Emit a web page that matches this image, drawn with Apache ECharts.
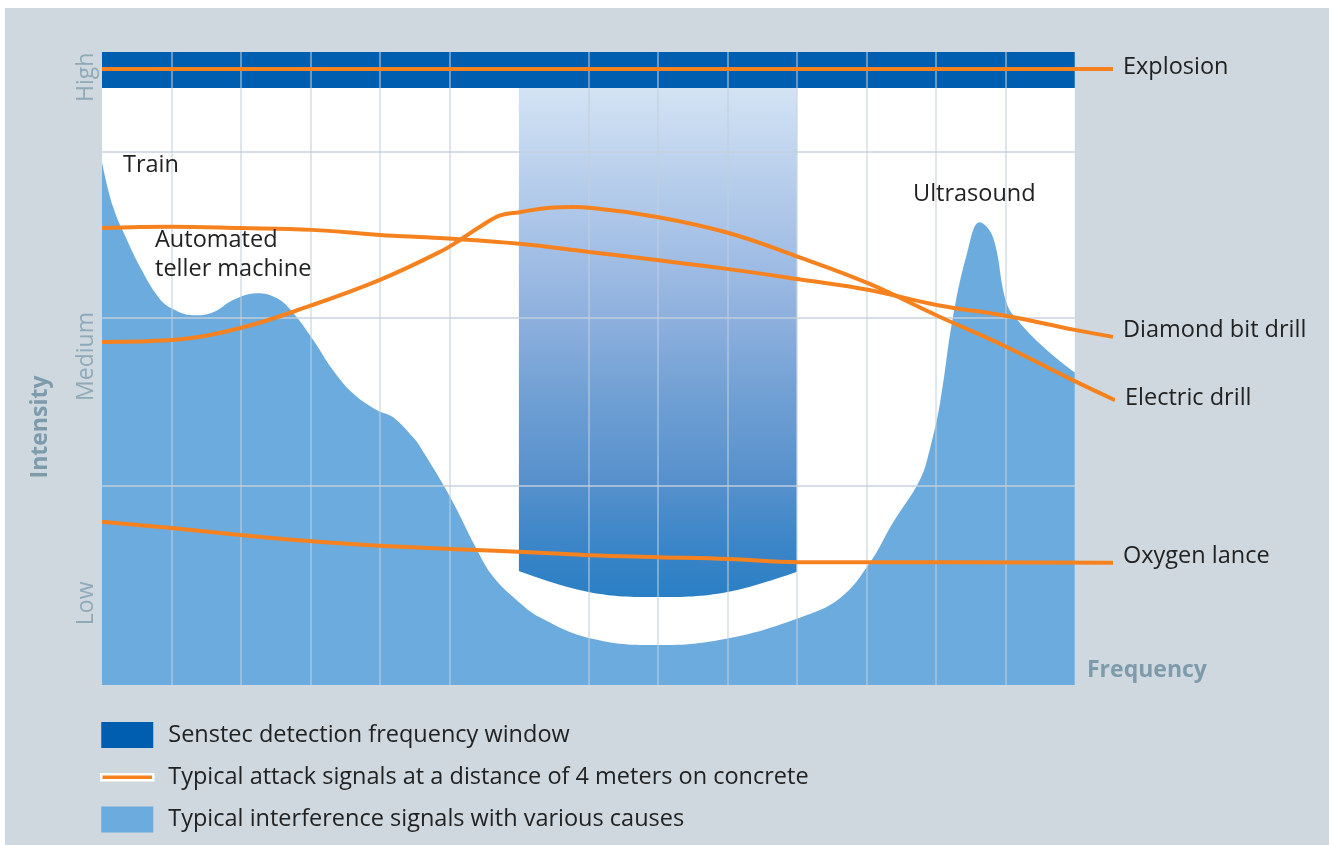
<!DOCTYPE html>
<html>
<head>
<meta charset="utf-8">
<script src="https://cdn.jsdelivr.net/npm/echarts@6/dist/echarts.min.js"></script>
<style>
  html, body { margin: 0; padding: 0; background: #fff; }
  #chart { width: 1332px; height: 845px; }
</style>
</head>
<body>
<div id="chart"></div>
<script>
// frequency runs 0..14 (grid columns), intensity 0..100
// the x axis goes a little past 14 so the attack lines can reach their labels
const plotFreq = [0, 14]
const gridFreq = [1, 2, 3, 4, 5, 7, 8, 9, 10, 11, 12, 13]
const gridLevel = [31.4, 58.0, 84.2]
const levelLabels = ['Low', 'Medium', 'High']
const levelValues = [12.9, 51.9, 96.0]

const detectionWindow = [[0, 100], [14, 100]]
const detectionBottom = 94.3

const senstecBand = [[6.0, 18.0], [7.0, 14.7], [8.0, 13.9], [9.0, 14.7], [10.0, 17.9]]

const interference = [
  [0, 82.6], [0.16, 75.5], [0.36, 70.3], [0.55, 66.0], [0.81, 61.3], [1.0, 59.5],
  [1.31, 58.4], [1.6, 58.9], [1.88, 60.8], [2.23, 61.9], [2.52, 61.1], [2.75, 58.8],
  [3.04, 54.5], [3.32, 49.8], [3.61, 46.1], [3.96, 43.4], [4.19, 42.3], [4.47, 39.2],
  [4.58, 37.6], [5.01, 29.7], [5.4, 21.3], [5.63, 17.1], [5.97, 13.4], [6.3, 10.7],
  [7.02, 7.4], [8.01, 6.3], [9.02, 7.4], [10.03, 10.6], [10.62, 13.7], [11.05, 19.3],
  [11.38, 25.6], [11.77, 32.4], [11.91, 37.1], [12.06, 44.5], [12.24, 57.7], [12.45, 68.2],
  [12.63, 73.1], [12.82, 70.8], [13.02, 60.3], [13.21, 57.2], [13.6, 52.9], [14.0, 49.4]
]

const explosion = [[0, 97.3], [14.55, 97.3]]
const diamondDrill = [
  [0, 72.2], [1, 72.4], [1.99, 72.2], [3.02, 71.9], [4.0, 71.1], [4.86, 70.6], [6.01, 69.7],
  [7.01, 68.4], [8.01, 67.1], [9.02, 65.7], [10.03, 64.1], [11.04, 62.4], [12.03, 60.0],
  [13.02, 58.3], [14.0, 56.1], [14.55, 55.0]
]
const electricDrill = [
  [0, 54.2], [1, 54.5], [1.99, 56.4], [3.02, 60.0], [4.0, 64.0], [4.86, 68.4], [5.15, 70.3],
  [5.44, 72.4], [5.73, 74.2], [6.01, 74.7], [6.45, 75.4], [6.78, 75.5], [7.02, 75.4],
  [8.01, 73.9], [9.02, 71.4], [10.03, 67.6], [11.04, 63.4], [12.03, 58.3],
  [13.02, 53.4], [14.0, 48.0], [14.58, 45.0]
]
const oxygenLance = [
  [0, 25.8], [1, 24.8], [1.99, 23.7], [3.02, 22.7], [4.0, 22.0], [5.02, 21.5], [6.3, 20.9],
  [7.02, 20.5], [8.01, 20.2], [9.02, 19.9], [10.03, 19.4], [11.04, 19.4], [14.55, 19.3]
]

const FONT = '"Open Sans", "Noto Sans", sans-serif'
const ORANGE = '#f5821f'
const ATTACK = 'Typical attack signals at a distance of 4 meters on concrete'
const WINDOW = 'Senstec detection frequency window'
const NOISE = 'Typical interference signals with various causes'

const chart = echarts.init(document.getElementById('chart'))

function attackLine (data, label, dy) {
  return {
    name: ATTACK,
    type: 'line',
    z: 6,
    data: data,
    smooth: 0.4,
    symbol: 'none',
    clip: false,
    lineStyle: { color: ORANGE, width: 4 },
    itemStyle: { color: ORANGE },
    endLabel: {
      show: true,
      formatter: label,
      distance: 10,
      offset: [0, dy],
      color: '#222',
      fontSize: 23.5,
      fontFamily: FONT
    }
  }
}

const gridLineStyle = { type: 'solid', color: 'rgba(195,208,220,0.7)' }

chart.setOption({
  animation: false,
  backgroundColor: '#cfd8df',
  grid: { left: 102, right: 219, top: 52, bottom: 160 },
  xAxis: {
    type: 'value',
    min: 0,
    max: 14.55,
    axisLine: { show: false },
    axisTick: { show: false },
    axisLabel: { show: false },
    splitLine: { show: false }
  },
  yAxis: {
    type: 'value',
    min: 0,
    max: 100,
    axisLine: { show: false },
    axisTick: { show: false },
    splitLine: { show: false },
    axisLabel: {
      customValues: levelValues,
      rotate: 90,
      margin: 4,
      color: '#8ea9b8',
      fontSize: 23,
      fontFamily: FONT,
      formatter: v => {
        const i = levelValues.indexOf(v)
        return i >= 0 ? levelLabels[i] : ''
      }
    }
  },
  legend: {
    orient: 'vertical',
    left: 100,
    top: 722,
    padding: 0,
    itemWidth: 52,
    itemHeight: 26,
    itemGap: 15,
    selectedMode: false,
    textStyle: { color: '#222', fontSize: 23.5, fontFamily: FONT, padding: [0, 0, 0, 10] },
    data: [
      { name: WINDOW, icon: 'rect' },
      {
        name: ATTACK,
        icon: 'path://M0,0M52,26M0,10h52v6h-52z',
        itemStyle: { color: ORANGE, borderColor: '#fff', borderWidth: 2.5 }
      },
      { name: NOISE, icon: 'rect' }
    ]
  },
  graphic: [
    { type: 'rect', shape: { x: 0, y: 0, width: 1332, height: 8 }, style: { fill: '#fff' } },
    { type: 'rect', shape: { x: 0, y: 0, width: 5, height: 845 }, style: { fill: '#fff' } },
    { type: 'rect', shape: { x: 1329, y: 0, width: 3, height: 845 }, style: { fill: '#fff' } },
    {
      type: 'text', x: 123, y: 165, z: 10,
      style: { text: 'Train', fill: '#222', font: '23.5px ' + FONT, verticalAlign: 'middle' }
    },
    {
      type: 'text', x: 155, y: 226, z: 10,
      style: { text: 'Automated\nteller machine', fill: '#222', font: '23.5px ' + FONT, lineHeight: 29, verticalAlign: 'top' }
    },
    {
      type: 'text', x: 913, y: 194, z: 10,
      style: { text: 'Ultrasound', fill: '#222', font: '23.5px ' + FONT, verticalAlign: 'middle' }
    },
    {
      type: 'text', x: 40, y: 427, rotation: Math.PI / 2, z: 10,
      style: { text: 'Intensity', fill: '#7e9bac', font: 'bold 23px ' + FONT, align: 'center', verticalAlign: 'middle' }
    },
    {
      type: 'text', x: 1087, y: 670, z: 10,
      style: { text: 'Frequency', fill: '#7e9bac', font: 'bold 23px ' + FONT, verticalAlign: 'middle' }
    }
  ],
  series: [
    {
      name: NOISE,
      type: 'line',
      z: 1,
      data: interference,
      smooth: 0.4,
      symbol: 'none',
      lineStyle: { width: 0 },
      itemStyle: { color: '#6cabde' },
      areaStyle: { color: '#6cabde', opacity: 1 },
      // white plot background, only over the gridded part
      markArea: {
        z: 0,
        silent: true,
        itemStyle: { color: '#fff' },
        data: [[{ coord: [plotFreq[0], 0] }, { coord: [plotFreq[1], 100] }]]
      }
    },
    {
      type: 'line',
      z: 2,
      data: senstecBand,
      smooth: 0.4,
      symbol: 'none',
      lineStyle: { width: 0 },
      areaStyle: {
        origin: 'end',
        opacity: 1,
        color: new echarts.graphic.LinearGradient(0, 0, 0, 1, [
          { offset: 0, color: '#d8e6f6' },
          { offset: 0.066, color: '#d3e3f4' },
          { offset: 0.18, color: '#c0d5ee' },
          { offset: 0.345, color: '#a6c1e6' },
          { offset: 0.488, color: '#8eb0de' },
          { offset: 0.639, color: '#6f9fd3' },
          { offset: 0.796, color: '#5590cc' },
          { offset: 0.895, color: '#3d86c8' },
          { offset: 1, color: '#2a7fc4' }
        ])
      },
      // grid lines sit above the fills
      markLine: {
        z: 4,
        silent: true,
        symbol: 'none',
        label: { show: false },
        lineStyle: gridLineStyle,
        data: [
          ...gridFreq.map(v => ({ xAxis: v, lineStyle: { width: 1.5 } })),
          ...gridLevel.map(v => [
            { coord: [plotFreq[0], v], lineStyle: { width: 2 } },
            { coord: [plotFreq[1], v] }
          ])
        ]
      }
    },
    {
      name: WINDOW,
      type: 'line',
      z: 3,
      data: detectionWindow,
      symbol: 'none',
      lineStyle: { width: 0 },
      itemStyle: { color: '#005eb0' },
      areaStyle: { color: '#005eb0', opacity: 1, origin: detectionBottom }
    },
    attackLine(explosion, 'Explosion', -2),
    attackLine(diamondDrill, 'Diamond bit drill', -7),
    attackLine(electricDrill, 'Electric drill', -2),
    attackLine(oxygenLance, 'Oxygen lance', -7)
  ]
})
</script>
</body>
</html>
